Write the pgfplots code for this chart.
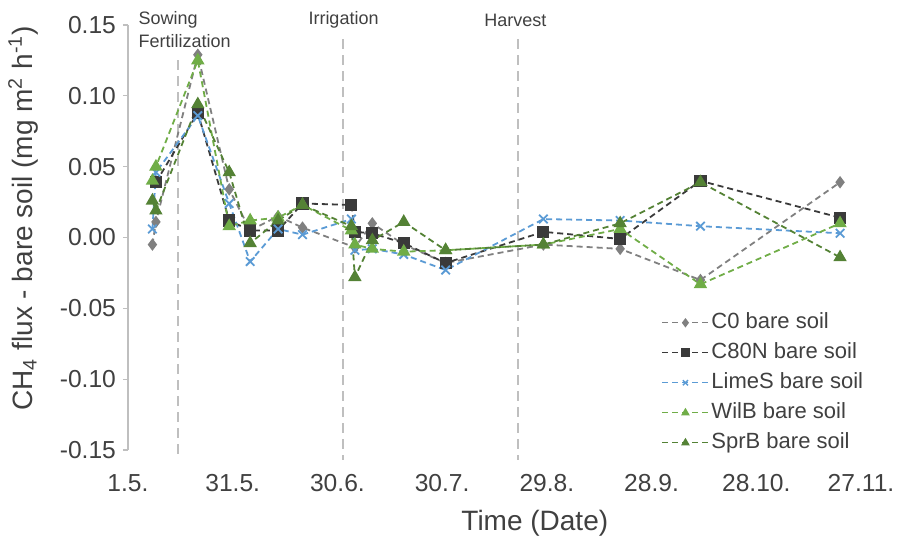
\documentclass[border=0pt]{standalone}
\usepackage{fontspec}
\setmainfont{Liberation Sans}
\usepackage{pgfplots}
\pgfplotsset{compat=1.18}

\definecolor{cZero}{HTML}{808080}
\definecolor{cEighty}{HTML}{3A3A3A}
\definecolor{cLime}{HTML}{5B9BD5}
\definecolor{cWil}{HTML}{70AD47}
\definecolor{cSpr}{HTML}{548235}
\definecolor{evt}{HTML}{BFBFBF}
\definecolor{txt}{HTML}{404040}

\begin{document}
\begin{tikzpicture}
\begin{axis}[
    scale only axis,
    width=366.5pt, height=212.5pt,
    xmin=0, xmax=210, ymin=-0.15, ymax=0.15,
    clip=false,
    axis lines*=left,
    x axis line style={draw=none},
    y axis line style={draw=evt, line width=0.6pt},
    xtick={0,30,60,90,120,150,180,210},
    xticklabels={1.5.,31.5.,30.6.,30.7.,29.8.,28.9.,28.10.,27.11.},
    xtick style={draw=none},
    ytick={-0.15,-0.10,-0.05,0,0.05,0.10,0.15},
    ytick style={draw=evt, line width=0.6pt},
    tick align=outside, major tick length=2.5pt,
    scaled y ticks=false,
    /pgf/number format/assume math mode=true,
    yticklabel style={/pgf/number format/fixed, /pgf/number format/fixed zerofill, /pgf/number format/precision=2},
    tick label style={font=\fontsize{12.3}{14}\selectfont, text=txt},
    xticklabel style={yshift=-6pt},
    ylabel={CH\textsubscript{4} flux - bare soil (mg m\textsuperscript{2} h\textsuperscript{-1})},
    xlabel={Time (Date)},
    label style={font=\fontsize{14}{16}\selectfont, text=txt},
    ylabel style={at={(axis description cs:-0.143,0.545)}, anchor=center},
    xlabel style={at={(axis description cs:0.555,-0.172)}, anchor=center},
    legend style={at={(axis description cs:0.719,0.338)}, anchor=north west,
        draw=none, fill=none, font=\fontsize{11}{13}\selectfont, text=txt,
        row sep=3pt, nodes={inner sep=1pt, text height=8pt, text depth=2pt}},
    legend cell align=left,
    legend image code/.code={\draw[mark repeat=2,mark phase=2,#1,line width=0.7pt,mark size=1.8pt] plot coordinates {(0cm,0cm) (0.41cm,0cm) (0.82cm,0cm)};},
    every axis plot/.append style={line width=0.9pt, dash pattern=on 3pt off 2pt},
]
% event lines
\addplot[evt, forget plot, dash pattern=on 5pt off 3pt] coordinates {(14.3,0.125) (14.3,-0.157)};
\addplot[evt, forget plot, dash pattern=on 5pt off 3pt] coordinates {(61.6,0.140) (61.6,-0.157)};
\addplot[evt, forget plot, dash pattern=on 5pt off 3pt] coordinates {(111.7,0.140) (111.7,-0.157)};
\node[anchor=west, inner sep=0, text=txt, font=\fontsize{9}{10}\selectfont] at (axis cs:2.9,0.1535) {Sowing};
\node[anchor=west, inner sep=0, text=txt, font=\fontsize{9}{10}\selectfont] at (axis cs:2.9,0.1385) {Fertilization};
\node[anchor=west, inner sep=0, text=txt, font=\fontsize{9}{10}\selectfont] at (axis cs:51.6,0.1535) {Irrigation};
\node[anchor=west, inner sep=0, text=txt, font=\fontsize{9}{10}\selectfont] at (axis cs:102,0.1535) {Harvest};

\addplot[cZero, mark=diamond*, mark size=2.4pt, mark options={solid}] coordinates {
(7,-0.005) (8,0.011) (20,0.129) (29,0.034) (35,0.005) (43,0.015) (50,0.007)
(65,-0.007) (70,0.010) (79,-0.005) (91,-0.018) (119,-0.005) (141,-0.008)
(164,-0.030) (204,0.039)};
\addplot[cEighty, mark=square*, mark size=2.6pt, mark options={solid}] coordinates {
(8,0.039) (20,0.088) (29,0.012) (35,0.005) (43,0.005) (50,0.024) (64,0.023)
(65,0.004) (70,0.003) (79,-0.004) (91,-0.018) (119,0.004) (141,-0.001)
(164,0.040) (204,0.014)};
\addplot[cLime, mark=x, mark size=3pt, mark options={solid}] coordinates {
(7,0.006) (8,0.046) (20,0.086) (29,0.024) (35,-0.017) (43,0.006) (50,0.002)
(64,0.013) (65,-0.009) (70,-0.008) (79,-0.012) (91,-0.023) (119,0.013)
(141,0.012) (164,0.008) (204,0.003)};
\addplot[cWil, mark=triangle*, mark size=3pt, mark options={solid}] coordinates {
(7,0.040) (8,0.050) (20,0.125) (29,0.008) (35,0.012) (43,0.014) (50,0.023)
(64,0.005) (65,-0.005) (70,-0.008) (79,-0.010) (91,-0.009) (119,-0.005)
(141,0.006) (164,-0.033) (204,0.010)};
\addplot[cSpr, mark=triangle*, mark size=3pt, mark options={solid}] coordinates {
(7,0.026) (8,0.019) (20,0.094) (29,0.046) (35,-0.004) (43,0.012) (50,0.023)
(64,0.008) (65,-0.028) (70,-0.002) (79,0.011) (91,-0.009) (119,-0.005)
(141,0.010) (164,0.039) (204,-0.014)};
\legend{C0 bare soil, C80N bare soil, LimeS bare soil, WilB bare soil, SprB bare soil}

\coordinate (bbsw) at (axis cs:-36.67,-0.21776);
\coordinate (bbne) at (axis cs:221.46,0.16765);
\end{axis}
\pgfresetboundingbox
\path[use as bounding box] (bbsw) rectangle (bbne);
\end{tikzpicture}
\end{document}
